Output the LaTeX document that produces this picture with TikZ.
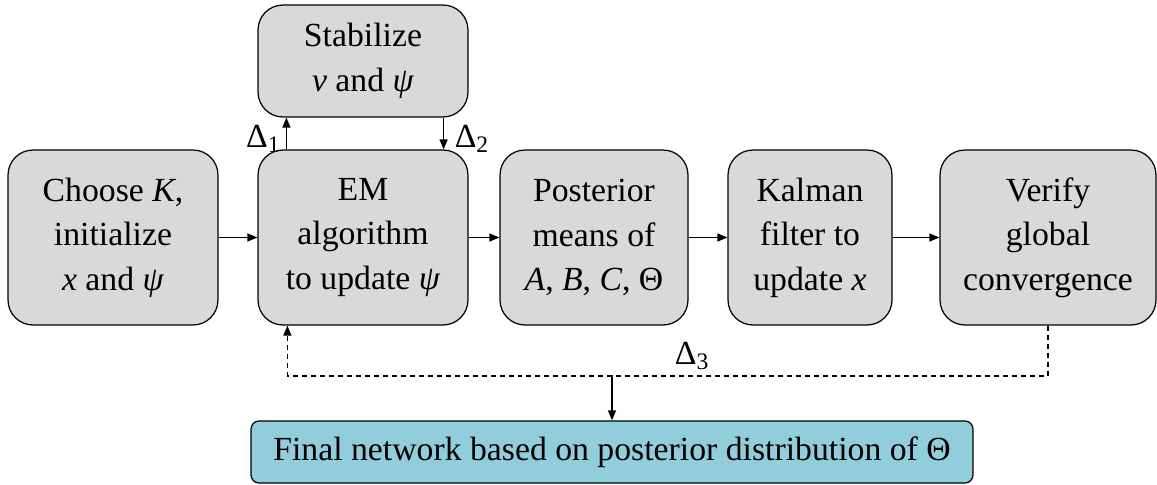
\documentclass[tikz,border=0pt]{standalone}
\usepackage{fontspec}
\setmainfont{Liberation Serif}
\usetikzlibrary{arrows.meta}
\definecolor{boxgray}{HTML}{D9D9D9}
\definecolor{finalblue}{HTML}{92CDDC}
\begin{document}
\begin{tikzpicture}[x=0.02cm, y=-0.02cm, line width=0.7pt,
    stepbox/.style={draw, fill=boxgray, rounded corners=0.5cm, align=center,
      minimum height=3.5cm, inner sep=0pt},
    tip/.style={-{Triangle[length=0.2cm,width=0.16cm]}},
    font=\fontsize{19.2}{25.3}\selectfont]
  \useasboundingbox (0,0) rectangle (1157,484);

  % Main chain
  \node[stepbox, minimum width=4.2cm] (init) at (113,237.5) {Choose \textit{K},\\initialize\\\textit{x} and \textit{ψ}};
  \node[stepbox, minimum width=4.2cm] (em) at (363,237.5) {EM\\algorithm\\to update \textit{ψ}};
  \node[stepbox, minimum width=3.76cm] (post) at (594,237.5) {Posterior\\means of\\\textit{A}, \textit{B}, \textit{C}, Θ};
  \node[stepbox, minimum width=3.28cm] (kal) at (810,237.5) {Kalman\\filter to\\update \textit{x}};
  \node[stepbox, minimum width=4.32cm] (vfy) at (1048,237.5) {Verify\\global\\convergence};

  % Stabilizing step and final result
  \node[stepbox, minimum width=4.2cm, minimum height=2.24cm] (stab) at (363,61) {Stabilize\\\textit{v} and \textit{ψ}};
  \node[draw, fill=finalblue, rounded corners=0.16cm, minimum width=14.44cm, minimum height=1.24cm] (final) at (612,452) {Final network based on posterior distribution of Θ};

  \draw[tip] (init) -- (em);
  \draw[tip] (em) -- (post);
  \draw[tip] (post) -- (kal);
  \draw[tip] (kal) -- (vfy);

  % Delta loops
  \draw[tip] ([xshift=0.58cm]em.north west) -- node[left, inner sep=3pt, yshift=-3pt] {Δ\textsubscript{1}} ([xshift=0.58cm]stab.south west);
  \draw[tip] ([xshift=-0.5cm]stab.south east) -- node[right, inner sep=6pt, yshift=-3pt] {Δ\textsubscript{2}} ([xshift=-0.5cm]em.north east);

  \coordinate (split) at (612,376);
  \draw[tip, dash pattern=on 0.1cm off 0.08cm] (vfy.south) |- (split) -| ([xshift=0.6cm]em.south west);
  \node (d3) at (692,356) {Δ\textsubscript{3}};
  \draw[tip] (split) -- (final.north -| split);
\end{tikzpicture}
\end{document}
